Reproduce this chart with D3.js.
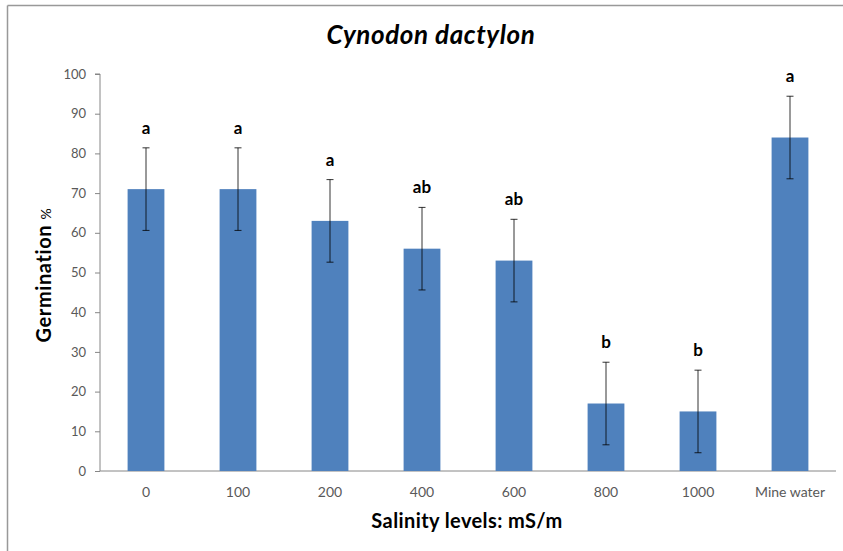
<!DOCTYPE html>
<html><head><meta charset="utf-8">
<script src="https://cdn.jsdelivr.net/npm/d3@7"></script>
<style>body{margin:0;background:#fff}</style>
</head><body>
<svg id="c" width="843" height="551"></svg>
<script>
const categories = ["0","100","200","400","600","800","1000","Mine water"];
const germination = [71, 71, 63, 56, 53, 17, 15, 84];
const errors = [10.4, 10.4, 10.4, 10.4, 10.4, 10.4, 10.4, 10.4];
const letters = ["a","a","a","ab","ab","b","b","a"];
const yTicks = [0,10,20,30,40,50,60,70,80,90,100];

const svg = d3.select("#c");
const m = {left:100, right:836, top:74, bottom:471};
const font = "Lato, 'Open Sans', sans-serif";

// outer border (left and top visible)
svg.append("line").attr("x1",7.5).attr("x2",7.5).attr("y1",5.5).attr("y2",551).attr("stroke","#999").attr("stroke-width",1.5);
svg.append("line").attr("x1",7.5).attr("x2",843).attr("y1",5.5).attr("y2",5.5).attr("stroke","#999").attr("stroke-width",1.5);

const x = d3.scaleBand().domain(categories).range([m.left, m.right]).paddingInner(0.6).paddingOuter(0.3);
const y = d3.scaleLinear().domain([0,100]).range([m.bottom, m.top]);

// y axis
const ya = svg.append("g").attr("transform",`translate(${m.left},0)`)
  .call(d3.axisLeft(y).tickValues(yTicks).tickSize(5).tickPadding(9));
ya.select(".domain").attr("stroke","#868686").attr("d",`M-5,${m.top}H0V${m.bottom}`);
ya.selectAll(".tick line").attr("stroke","#868686");
ya.selectAll("text").attr("fill","#595959").style("font-family",font).style("font-size","13px");

// x axis
const xa = svg.append("g").attr("transform",`translate(0,${m.bottom})`)
  .call(d3.axisBottom(x).tickSize(0).tickPadding(16));
xa.select(".domain").attr("stroke","#868686").attr("d",`M${m.left},0H${m.right}`);
xa.selectAll("text").attr("fill","#595959").style("font-family",font).style("font-size","14px");

// bars
svg.append("g").selectAll("rect").data(categories).join("rect")
  .attr("x",d=>x(d)).attr("width",x.bandwidth())
  .attr("y",(d,i)=>y(germination[i])).attr("height",(d,i)=>y(0)-y(germination[i]))
  .attr("fill","#4F81BD");

// error bars
const eg = svg.append("g").attr("stroke","#000").attr("stroke-width",0.8);
categories.forEach((c,i)=>{
  const cx = x(c)+x.bandwidth()/2;
  const hi = y(germination[i]+errors[i]), lo = y(germination[i]-errors[i]);
  eg.append("line").attr("x1",cx).attr("x2",cx).attr("y1",hi).attr("y2",lo);
  eg.append("line").attr("x1",cx-3.5).attr("x2",cx+3.5).attr("y1",hi).attr("y2",hi);
  eg.append("line").attr("x1",cx-3.5).attr("x2",cx+3.5).attr("y1",lo).attr("y2",lo);
  svg.append("text").attr("x",cx).attr("y",hi-14).attr("text-anchor","middle")
    .style("font-family",font).style("font-weight","bold").style("font-size","17px").attr("fill","#000")
    .text(letters[i]);
});

// title
svg.append("text").attr("x",431).attr("y",44).attr("text-anchor","middle")
  .style("font-family",font).style("font-weight","bold").style("font-style","italic").style("font-size","26px")
  .style("letter-spacing","0.6px")
  .text("Cynodon dactylon");

// axis titles
svg.append("text").attr("x",467).attr("y",528).attr("text-anchor","middle")
  .style("font-family",font).style("font-weight","bold").style("font-size","20px")
  .style("letter-spacing","0.4px")
  .text("Salinity levels: mS/m");
const yt = svg.append("text").attr("transform","translate(51,275) rotate(-90)").attr("text-anchor","middle")
  .style("font-family",font).style("font-weight","bold").style("font-size","20px")
  .style("letter-spacing","0.6px");
yt.append("tspan").text("Germination ");
yt.append("tspan").style("font-size","14px").style("font-weight","normal").text("%");
</script>
</body></html>
